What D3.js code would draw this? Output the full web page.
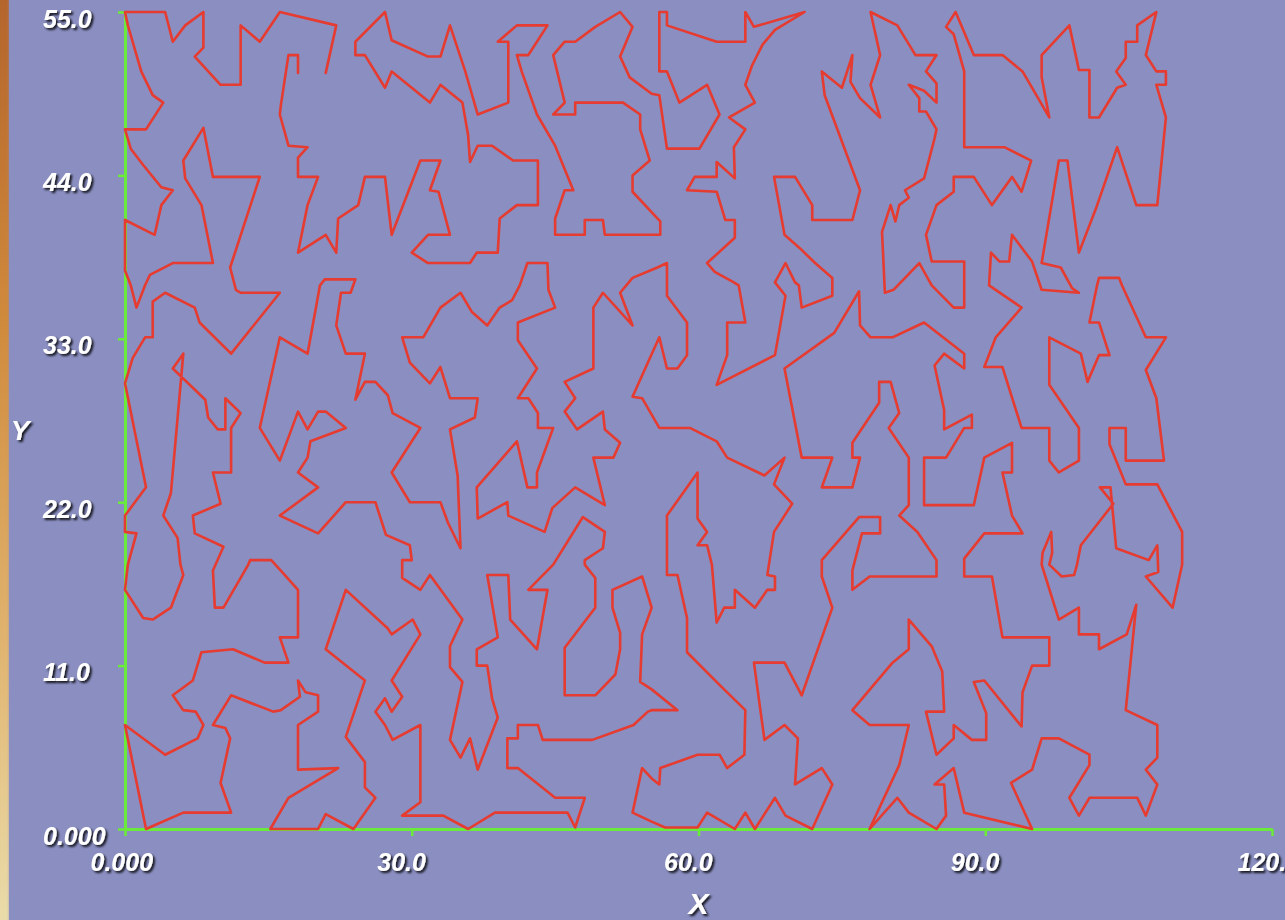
<!DOCTYPE html>
<html><head><meta charset="utf-8">
<script src="https://cdn.jsdelivr.net/npm/d3@7"></script>
<style>html,body{margin:0;padding:0;background:#8a8ec0;overflow:hidden}</style>
</head><body>
<svg id="c" width="1285" height="920"></svg>
<script>
// ---- data (tour through cities, data units) ----
const xTickValues = [0, 30, 60, 90, 120];
const xTickLabels = ["0.000", "30.0", "60.0", "90.0", "120.0"];
const yTickValues = [0, 11, 22, 33, 44, 55];
const yTickLabels = ["0.000", "11.0", "22.0", "33.0", "44.0", "55.0"];
const xTitle = "X", yTitle = "Y";

const tourWest = [[21.0,50.9],[22.1,54.1],[16.2,55],[14.1,53.0],[12.1,54.1],[12.1,50.1],[10.0,50.1],[7.3,52.0],[8.2,52.6],[8.2,55],[6.3,54.1],[5.0,53.0],[4.2,55],[0,55],[0.3,54.1],[1.7,51.0],[2.9,49.4],[4.0,48.9],[2.2,47.1],[0,47.1],[0.6,45.8],[1.9,44.7],[3.8,43.2],[5.0,43.0],[3.8,42.0],[3.1,40.0],[0,41.0],[0,37.6],[0.6,36.6],[1.2,35.1],[2.1,36.6],[2.6,37.3],[5.0,38.1],[9.2,38.1],[8.0,42.0],[6.3,43.8],[6.1,45.0],[8.2,47.2],[9.2,43.9],[14.1,43.9],[11.0,37.8],[11.6,36.3],[12.1,36.1],[16.2,36.1],[11.1,32.0],[7.8,34.1],[7.3,35.1],[4.2,36.1],[2.9,35.5],[2.9,33.1],[2.1,33.1],[0.8,31.7],[0,30.0],[2.2,23.0],[0,21.1],[0,20.0],[1.2,19.9],[0.3,17.8],[0,16.1],[1.9,14.2],[2.9,14.1],[4.8,14.9],[6.1,17.1],[5.8,17.8],[5.5,19.6],[4.0,21.1],[4.8,22.6],[6.1,32.0],[5.0,31.0],[8.4,28.9],[8.7,27.7],[9.7,26.9],[10.5,26.9],[10.5,29.0],[12.1,28.0],[11.1,27.0],[11.1,24.0],[9.2,24.0],[10.0,21.9],[7.1,21.1],[7.3,19.9],[10.3,19.0],[9.2,17.4],[9.4,14.9],[10.3,14.9],[12.9,17.8],[13.1,18.1],[15.3,18.1],[16.3,17.4],[18.1,16.1],[18.1,12.9],[16.2,12.9],[17.1,11.2],[14.6,11.2],[11.3,12.1],[8.0,11.9],[7.1,10.0],[5.0,9.0],[6.1,8.0],[7.4,7.9],[8.2,7.0],[7.6,6.1],[4.2,5.0],[0,7.0],[2.2,0],[6.1,1.1],[11.1,1.1],[10.0,3.1],[11.0,6.1],[10.5,6.8],[9.2,7.0],[11.1,9.0],[15.5,7.9],[16.3,8.0],[18.3,8.9],[18.1,10.0],[18.9,9.2],[20.2,9.0],[20.2,7.9],[18.1,7.0],[18.1,4.0],[22.3,4.1],[17.1,2.1],[15.2,0],[20.2,0],[21.0,1.0],[23.9,0],[26.2,2.1],[25.1,2.8],[25.1,4.5],[23.1,6.2],[25.1,10.0],[21.0,12.1],[23.1,16.1],[27.5,13.5]];

const tourSouth = [[27.9,13.1],[30.1,14.1],[30.9,13.1],[27.9,10.0],[29.0,8.9],[27.9,7.9],[27.2,8.8],[26.2,7.9],[27.2,7.0],[28.0,6.0],[30.9,7.0],[30.9,1.8],[29.0,0.9],[33.3,0.9],[35.9,0],[38.7,1.1],[46.3,1.1],[47.1,0.1],[48.1,2.1],[45.0,2.1],[41.1,4.1],[40.0,4.1],[40.0,6.1],[41.1,6.1],[41.1,7.0],[43.2,7.0],[43.7,6.0],[48.9,6.0],[53.2,7.0],[54.7,7.9],[55.1,8.0],[57.8,8.0],[55.1,9.4],[53.9,9.9],[54.1,13.1],[55.1,14.9],[54.1,17.0],[51.0,16.1],[51.0,14.9],[51.8,13.2],[51.8,12.1],[51.3,10.4],[49.2,9.0],[46.0,9.0],[46.0,12.2],[49.2,14.9],[49.2,16.9],[48.1,17.8],[48.1,18.1],[50.0,18.9],[50.2,20.0],[47.9,21.0],[44.8,17.8],[42.2,16.1],[44.2,16.1],[43.1,12.1],[40.3,14.1],[40.1,17.1],[37.9,17.1],[39.0,12.9],[36.8,12.1],[36.8,11.0],[37.9,11.0],[38.4,8.8],[39.0,7.5],[36.9,4.0],[36.1,6.1],[35.1,4.8],[34.0,6.0],[35.3,9.9],[34.0,10.9],[34.0,12.3],[35.3,14.1],[31.9,17.1],[30.9,16.1],[29.0,16.9],[29.0,18.1],[30.0,18.1],[29.8,19.1],[27.3,19.8],[26.2,22.0],[23.1,22.0],[20.2,19.9],[16.2,21.1],[20.2,23.0],[18.1,24.0],[19.1,25.0],[19.4,26.1],[23.1,27.0],[21.0,28.1],[20.2,28.1],[19.1,26.9],[18.1,28.1],[16.2,24.8],[14.1,27.0],[16.2,33.1],[19.1,32.0],[20.4,36.6],[20.9,37.0],[24.1,37.0],[23.6,36.1],[22.6,36.1],[22.1,33.9],[23.1,32.0],[25.1,32.0],[24.1,28.9],[25.1,30.1],[26.2,30.1],[27.5,29.2],[28.0,28.0],[30.9,27.0],[27.9,24.0],[29.8,22.0],[33.0,22.0],[33.8,20.6],[35.1,18.9],[34.8,23.8],[34.0,26.9],[36.6,27.7],[36.9,29.0],[34.0,29.0],[33.0,31.1],[31.9,30.0],[29.8,31.4],[29.0,33.1],[31.2,33.1],[33.0,35.1],[35.1,36.1],[36.3,34.8],[37.9,33.9],[39.2,35.1],[40.5,35.6],[41.3,36.6],[42.1,38.1],[44.2,38.1],[44.3,36.3],[45.0,35.1],[41.1,34.1],[41.1,32.9],[43.1,31.0],[41.1,29.0],[42.2,29.0],[43.2,28.0],[43.2,27.0],[44.8,27.0],[43.1,24.0],[43.1,23.0],[42.1,23.0],[41.0,26.1],[36.8,23.0],[36.9,20.9],[40.0,22.0],[40.1,21.1],[43.9,20.0],[44.7,21.6],[47.1,23.0],[50.2,21.8],[49.0,25.0],[51.1,25.0],[51.8,26.0],[50.2,26.9],[50.0,28.1],[47.3,26.9],[46.0,28.1],[47.1,29.0],[46.0,30.1],[49.0,31.0],[49.0,35.1],[50.0,36.1],[53.1,33.9],[51.8,36.1],[53.1,37.1],[55.7,37.8],[56.7,38.1],[56.7,35.9],[58.8,34.1],[58.8,31.9],[57.8,31.0],[56.7,31.0],[55.9,33.1],[55.4,32.4],[53.1,29.1],[54.1,29.0],[55.9,27.0],[59.1,27.0],[61.9,26.1],[63.0,25.0],[66.9,23.8],[69.0,25.0],[67.9,23.2],[69.8,21.9],[67.9,20.0],[67.2,17.1],[68.0,17.0],[68.0,16.1],[67.2,16.1],[65.9,14.9],[63.8,16.1],[63.8,14.9],[62.7,14.9],[61.9,13.9],[61.4,17.8],[60.9,19.1],[59.9,19.1],[60.9,20.0],[59.9,20.9],[59.9,24.0],[56.7,21.1],[56.7,17.1],[57.8,17.1],[58.8,14.2],[58.8,11.9],[62.2,9.7],[64.9,8.0],[64.8,5.0],[63.0,4.1],[62.2,5.0],[59.9,5.0],[56.0,4.1],[55.9,3.0],[55.1,3.4],[54.1,4.1],[53.1,1.1],[55.1,0.5],[56.5,0.1],[59.9,0.1],[60.9,1.1],[63.8,0],[64.9,1.1],[65.9,0],[68.0,2.1],[69.1,0.9],[71.9,0],[74.0,3.0],[72.9,4.1],[70.1,3.0],[70.4,6.1],[69.0,7.0],[66.9,6.0],[65.8,11.2],[69.0,11.2],[70.8,9.0],[74.0,14.9],[72.9,17.0],[72.9,18.1],[76.8,21.0],[79.0,21.0],[79.0,19.9],[77.1,19.9],[76.1,17.4],[76.1,16.1],[77.9,17.0],[84.9,17.0],[84.9,18.1],[82.9,20.0]];

const tourEast = [[81.0,21.1],[82.0,21.8],[82.0,25.0],[79.9,27.0],[81.0,28.0],[80.1,30.1],[78.9,30.1],[78.9,28.7],[76.1,26.0],[76.1,25.0],[76.9,25.0],[76.1,23.0],[72.9,23.0],[74.0,25.0],[70.8,25.0],[69.0,31.0],[74.2,33.4],[76.8,36.2],[76.9,33.9],[78.0,33.1],[80.3,33.1],[83.6,34.1],[87.8,32.0],[87.8,31.0],[85.7,32.0],[84.7,31.2],[85.7,28.2],[85.7,26.9],[88.6,27.9],[88.6,27.0],[87.8,27.0],[85.9,25.0],[83.6,25.0],[83.6,21.8],[88.8,21.8],[89.9,25.0],[92.8,26.0],[92.8,24.0],[91.8,24.0],[92.8,21.1],[93.9,19.9],[89.9,19.9],[87.8,18.2],[87.8,17.0],[90.7,17.0],[91.8,12.9],[96.7,12.9],[96.7,11.0],[94.9,11.0],[93.9,9.2],[93.8,6.9],[89.9,10.0],[88.8,9.9],[90.1,7.8],[90.1,6.0],[88.6,6.0],[86.7,7.0],[86.7,6.1],[84.9,5.0],[83.8,7.9],[85.7,7.9],[85.5,10.6],[84.4,12.3],[82.0,14.1],[82.0,12.1],[80.3,11.2],[76.1,8.0],[77.9,7.0],[82.0,7.0],[81.0,4.3],[77.9,0],[80.8,2.1],[82.0,1.1],[84.9,0],[85.9,0.9],[85.7,3.0],[84.7,3.0],[86.7,4.1],[87.8,1.1],[94.9,0],[92.7,3.1],[94.9,4.0],[95.9,6.1],[97.7,6.1],[100.9,5.0],[100.9,4.3],[98.8,2.1],[99.8,0.9],[100.9,2.1],[105.9,2.1],[106.8,0.9],[108.0,3.0],[106.8,4.0],[108.0,4.8],[108.0,7.0],[104.7,8.0],[105.8,15.1],[104.8,13.1],[101.9,12.1],[101.9,13.1],[99.8,13.1],[99.8,14.9],[97.7,14.1],[95.9,17.8],[96.0,18.6],[96.9,20.0],[97.0,18.6],[96.7,17.8],[98.0,17.0],[99.3,17.1],[99.6,17.8],[100.0,19.1],[103.4,21.9],[102.0,23.0],[103.1,23.0],[103.7,18.9],[107.1,18.1],[108.0,19.1],[108.1,17.3],[106.8,17.0],[109.6,14.9],[110.6,17.8],[110.6,20.0],[108.0,23.2],[104.7,23.2],[103.0,25.9],[103.0,27.0],[104.7,27.0],[104.7,24.8],[108.7,24.8],[107.9,29.0],[106.8,30.9],[108.9,33.1],[106.8,33.1],[104.3,36.6],[104.0,37.1],[101.9,37.1],[101.7,36.6],[100.9,34.1],[101.9,34.1],[103.0,31.9],[101.9,31.9],[100.7,30.1],[100.0,32.0],[96.7,33.1],[96.7,29.9],[99.8,27.0],[99.8,24.8],[97.7,24.0],[96.7,24.8],[96.7,27.0],[93.8,27.0],[91.8,31.1],[89.9,31.1],[91.1,33.1],[93.8,35.1],[90.4,36.6],[90.6,38.8],[91.5,38.2],[92.5,38.2],[92.8,40.0],[94.9,38.2],[95.9,36.3],[99.8,36.1],[99.1,36.4],[97.9,37.8],[95.9,38.1],[97.7,45.0],[98.6,45.0],[99.8,38.8],[101.6,41.8],[103.8,45.9],[105.8,42.0],[108.0,42.0],[108.9,47.9],[107.9,50.1],[108.9,50.1],[108.9,51.0],[107.9,51.0],[106.8,52.1],[107.9,55],[105.9,54.1],[105.9,53.0],[104.7,53.0],[104.7,51.9],[103.7,51.0],[104.7,50.1],[103.8,49.9],[101.9,47.9],[100.9,47.9],[100.9,51.1],[99.8,51.1],[98.8,54.1],[95.9,52.1],[95.9,50.6],[96.7,47.9],[93.9,51.0],[91.8,52.1],[88.8,52.1],[86.9,55],[85.9,54.0],[86.7,53.5],[87.8,51.0],[87.8,45.9],[92.0,45.9],[94.8,45.0],[93.8,42.9],[92.8,43.9],[90.7,42.0],[88.8,43.9],[86.7,43.9],[86.7,42.9],[84.9,42.0],[83.8,40.0],[84.4,38.2],[87.8,38.2],[87.8,35.1],[86.7,35.1],[84.4,36.6],[83.1,38.1],[80.4,36.3],[79.5,36.1],[79.2,40.2],[80.1,42.0],[80.6,40.9],[81.0,42.0],[82.0,42.5],[81.6,43.0],[83.6,43.8],[84.7,46.5],[84.9,47.1],[83.8,48.3],[83.1,48.3],[83.1,49.2],[82.0,50.1],[83.6,49.7],[84.9,48.9],[84.9,50.2],[83.8,51.0],[84.9,52.1],[82.7,52.1],[80.8,54.1],[78.0,55]];

const tourNorth = [[79.0,52.1],[78.0,50.1],[79.0,47.9],[76.9,49.2],[75.9,50.3],[76.1,52.1],[75.0,49.9],[72.9,51.0],[73.2,49.4],[76.9,43.0],[76.1,41.0],[71.9,41.0],[71.9,42.0],[70.1,43.9],[67.9,43.9],[69.0,40.0],[70.6,39.1],[72.2,38.1],[74.0,37.1],[74.0,35.9],[70.8,35.1],[70.5,36.6],[70.1,36.8],[69.1,38.1],[68.0,36.8],[69.1,35.9],[68.0,31.9],[61.9,29.9],[63.0,31.9],[63.0,34.1],[64.9,34.1],[64.2,36.6],[63.7,36.8],[61.7,37.5],[60.9,38.1],[63.8,39.8],[63.8,41.0],[62.8,41.0],[61.9,42.9],[58.8,43.0],[59.6,43.9],[61.9,43.9],[61.9,44.9],[63.8,43.8],[63.7,45.9],[64.9,47.1],[63.2,47.9],[65.9,48.9],[64.9,50.1],[65.6,51.4],[66.7,52.8],[68.0,53.8],[71.1,55],[65.8,54.0],[64.9,55],[64.9,53.0],[61.9,53.0],[56.7,54.1],[56.7,55],[55.9,55],[55.9,51.0],[56.7,51.0],[58.0,48.9],[60.9,50.1],[62.2,48.1],[60.1,45.8],[56.7,45.8],[55.9,49.4],[55.1,49.5],[52.8,50.6],[51.8,52.0],[53.1,54.0],[51.8,55],[49.2,54.0],[47.1,53.0],[46.0,53.0],[44.8,52.1],[46.0,48.9],[44.8,48.1],[47.1,48.1],[47.1,48.9],[52.1,48.9],[53.9,48.1],[53.9,47.1],[54.9,45.0],[53.1,44.0],[53.1,42.9],[55.7,41.1],[56.0,40.9],[56.0,40.0],[50.2,40.0],[50.0,41.0],[48.1,41.0],[48.1,40.0],[45.0,40.0],[45.0,41.1],[46.0,43.0],[46.9,43.0],[45.0,46.0],[43.1,48.1],[41.5,51.0],[41.0,52.1],[42.2,52.1],[44.2,54.1],[41.0,54.1],[39.0,53.0],[40.1,53.0],[40.1,48.9],[36.9,48.1],[35.6,51.0],[34.0,54.1],[33.0,52.0],[31.7,52.0],[27.9,53.1],[27.2,55],[24.1,53.0],[24.1,52.1],[25.1,52.1],[27.2,49.9],[27.9,51.0],[31.9,48.9],[33.0,50.1],[35.3,48.9],[35.9,46.7],[36.1,44.9],[36.9,46.0],[38.4,46.0],[40.6,45.0],[43.2,45.0],[43.2,42.0],[41.0,42.0],[39.2,41.1],[39.0,38.8],[36.8,38.8],[36.1,38.1],[31.7,38.1],[30.0,38.8],[31.7,40.0],[34.0,40.0],[32.8,42.9],[31.9,43.0],[33.0,45.0],[30.9,45.0],[27.9,40.0],[27.2,43.9],[25.1,43.9],[24.4,42.0],[22.3,41.1],[22.1,38.8],[21.0,40.0],[18.1,38.8],[19.1,42.0],[20.2,43.9],[18.1,43.9],[18.1,45.2],[19.1,45.9],[17.1,46.0],[16.2,48.1],[16.3,48.7],[17.1,52.1],[18.1,52.1],[18.1,50.9]];

const tour = [...tourWest, ...tourSouth, ...tourEast, ...tourNorth];

// ---- drawing ----
const W = 1285, H = 920;
const svg = d3.select("#c");
const defs = svg.append("defs");
const grad = defs.append("linearGradient").attr("id", "strip")
  .attr("x1", 0).attr("y1", 0).attr("x2", 0).attr("y2", 1);
[["0%", "#b4652c"], ["35%", "#d08a3c"], ["70%", "#e0b470"], ["100%", "#eadcaa"]]
  .forEach(s => grad.append("stop").attr("offset", s[0]).attr("stop-color", s[1]));
const gradH = defs.append("linearGradient").attr("id", "stripFade")
  .attr("x1", 0).attr("y1", 0).attr("x2", 1).attr("y2", 0);
gradH.append("stop").attr("offset", "0%").attr("stop-color", "#8a8ec0").attr("stop-opacity", 0);
gradH.append("stop").attr("offset", "100%").attr("stop-color", "#8a8ec0").attr("stop-opacity", 1);
const f = defs.append("filter").attr("id", "sh").attr("x", "-30%").attr("y", "-30%")
  .attr("width", "160%").attr("height", "160%");
f.append("feDropShadow").attr("dx", 2).attr("dy", 2).attr("stdDeviation", 1.3)
  .attr("flood-color", "#000").attr("flood-opacity", 0.85);

svg.append("rect").attr("width", W).attr("height", H).attr("fill", "#8a8ec0");
svg.append("rect").attr("x", 0).attr("y", 0).attr("width", 9).attr("height", H).attr("fill", "url(#strip)");
svg.append("rect").attr("x", 7).attr("y", 0).attr("width", 6).attr("height", H).attr("fill", "url(#stripFade)");

const x = d3.scaleLinear().domain([0, 120]).range([125, 1272]);
const y = d3.scaleLinear().domain([0, 55]).range([829, 12]);

const green = "#6aea3a";
const font = "'Liberation Sans', Arial, sans-serif";

const gx = svg.append("g").attr("transform", `translate(0,${y(0)})`)
  .call(d3.axisBottom(x).tickValues(xTickValues)
    .tickFormat((d, i) => xTickLabels[i]).tickSize(7).tickSizeOuter(0));
const gy = svg.append("g").attr("transform", `translate(${x(0)},0)`)
  .call(d3.axisLeft(y).tickValues(yTickValues)
    .tickFormat((d, i) => yTickLabels[i]).tickSize(7).tickSizeOuter(0));

[gx, gy].forEach(g => {
  g.select(".domain").attr("stroke", green).attr("stroke-width", 3);
  g.selectAll(".tick line").attr("stroke", green).attr("stroke-width", 2.5);
  g.selectAll(".tick text").attr("fill", "#fff").attr("font-family", font)
    .attr("font-size", 25).attr("font-weight", "bold").attr("font-style", "italic")
    .attr("filter", "url(#sh)").attr("dy", null);
});
gx.selectAll(".tick text").attr("text-anchor", "start").attr("x", -35).attr("y", 42);
gy.selectAll(".tick text").attr("text-anchor", "start").attr("x", 43 - x(0)).attr("y", 15);

// tour line
svg.append("path").datum(tour)
  .attr("d", d3.line().x(d => x(d[0])).y(d => y(d[1])))
  .attr("fill", "none").attr("stroke", "#e63b30").attr("stroke-width", 2.6)
  .attr("stroke-linejoin", "round").attr("stroke-linecap", "round");

// axis titles
svg.append("text").text(xTitle).attr("x", x(60)).attr("y", 914)
  .attr("text-anchor", "middle").attr("fill", "#fff").attr("font-family", font)
  .attr("font-size", 30).attr("font-weight", "bold").attr("font-style", "italic")
  .attr("filter", "url(#sh)");
svg.append("text").text(yTitle).attr("x", 20).attr("y", 440)
  .attr("text-anchor", "middle").attr("fill", "#fff").attr("font-family", font)
  .attr("font-size", 28).attr("font-weight", "bold").attr("font-style", "italic")
  .attr("filter", "url(#sh)");
</script>
</body></html>
